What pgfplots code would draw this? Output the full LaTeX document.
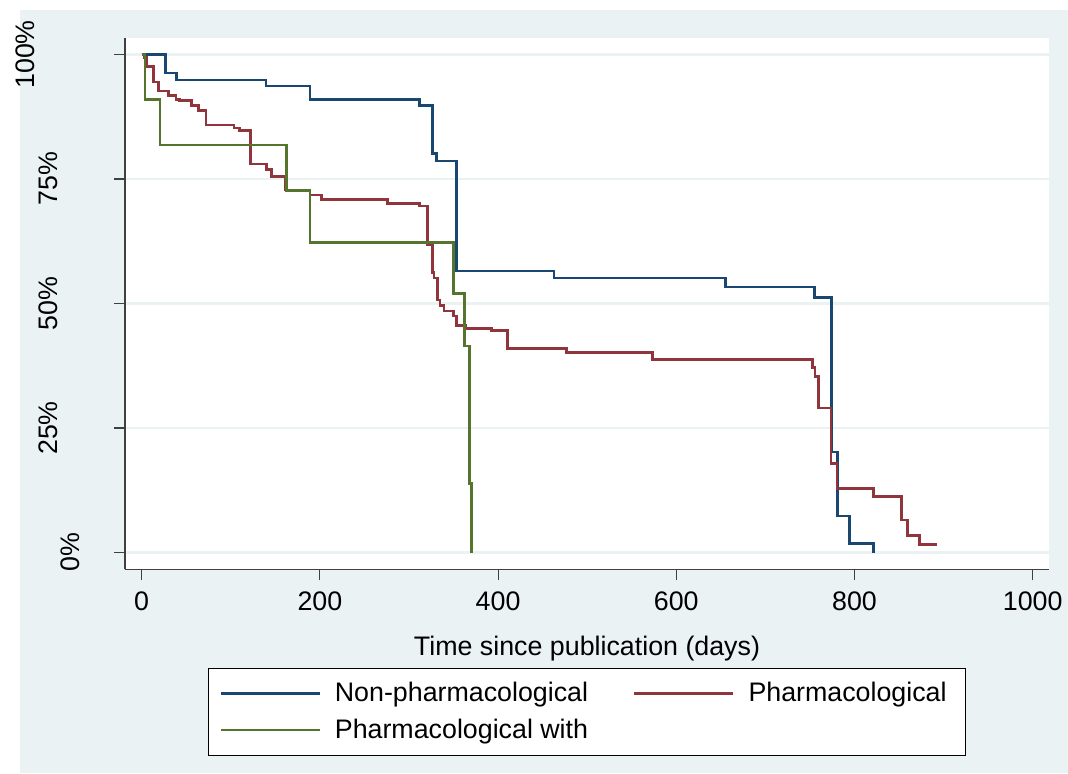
\documentclass[border=0pt]{standalone}
\usepackage{fontspec}
\setmainfont{Liberation Sans}
\usepackage{pgfplots}
\pgfplotsset{compat=1.18}

\definecolor{bgc}{HTML}{EAF2F3}
\definecolor{snavy}{HTML}{1A476F}
\definecolor{smaroon}{HTML}{90353B}
\definecolor{sgreen}{HTML}{55752F}
\newcommand\lbl{\fontsize{13.4}{16}\selectfont}

\begin{document}
\begin{tikzpicture}
\useasboundingbox (-62.5pt,-101.85pt) rectangle (471.5pt,284.65pt);
\fill[bgc] (-52.5pt,-101.85pt) rectangle (471.5pt,279.65pt);
\begin{axis}[
    at={(0pt,0pt)}, anchor=south west,
    scale only axis, width=462pt, height=265.65pt,
    xmin=-18.74, xmax=1018.3,
    ymin=-3.37, ymax=103.3,
    axis x line*=bottom, axis y line*=left,
    axis line style={black!75, line width=0.6pt, -},
    axis background/.style={fill=white},
    tick align=outside,
    major tick length=5.5pt,
    tick style={black!75, line width=0.6pt},
    xtick={0,200,400,600,800,1000},
    ytick={0,25,50,75,100},
    yticklabels={0\%, {\raisebox{11pt}{25\%}}, {\raisebox{11pt}{50\%}}, {\raisebox{11pt}{75\%}}, {\raisebox{22.5pt}{100\%}}},
    ymajorgrids,
    major grid style={bgc, line width=1.2pt},
    /pgf/number format/assume math mode=true,
    /pgf/number format/1000 sep={},
    tick label style={font=\lbl, inner sep=0pt},
    yticklabel style={rotate=90, anchor=south},
    xticklabel shift=5.5pt,
    yticklabel shift=17pt,
    xlabel={Time since publication (days)},
    xlabel style={at={(axis description cs:0.5,-0.1626)}, anchor=base, font=\lbl},
    legend columns=2,
    legend cell align=left,
    legend image code/.code={\draw[#1, line width=1.2pt] (0pt,0pt) -- (49.5pt,0pt);},
    legend style={at={(axis description cs:0.0898,-0.1852)}, anchor=north west,
        draw=black, line width=0.5pt, fill=white, font=\lbl,
        inner xsep=5.5pt, inner ysep=5pt, row sep=3.15pt,
        /tikz/every odd column/.append style={column sep=3pt},
        /tikz/every even column/.append style={column sep=18.5pt},
        nodes={inner xsep=4pt}},
    every axis plot/.append style={const plot, line width=1.3pt},
]
% Non-pharmacological
\addplot[snavy] coordinates {
 (0,100) (26.9,96.3) (39.3,94.9) (139.5,93.7) (188.9,91.0) (311.6,89.7)
 (326.6,80.1) (331.0,78.6) (353.5,56.5) (462.7,55.1) (655.0,53.3)
 (755.3,51.2) (774.2,20.2) (780.7,7.3) (794.2,1.8) (821.1,0)
};
% Pharmacological
\addplot[smaroon] coordinates {
 (0,100) (3,99.4) (5.6,97.6) (13.0,94.5) (18.6,92.7) (29.9,91.7) (38.5,91.0)
 (42.2,90.7) (56.1,89.7) (63.5,88.7) (72.2,85.8) (103.6,85.2) (109.5,84.7)
 (122.3,78.0) (140.3,76.9) (145.9,75.5) (160.8,72.8) (188.9,71.8) (202.0,70.9)
 (275.6,70.1) (311.6,69.6) (321.0,61.9) (326.6,56.2) (328.1,55.1) (331.8,50.7)
 (334.8,49.6) (339.3,48.5) (349.7,47.5) (353.5,45.6) (363.6,45.0) (392.8,44.6)
 (410.3,41.0) (477.0,40.1) (573.5,38.7) (753.1,37.1) (755.5,35.3) (759.8,29.0)
 (773.6,17.9) (780.4,12.9) (821.1,11.3) (853.0,6.5) (859.7,3.4) (872.7,1.6)
 (892.9,1.6)
};
% Pharmacological with
\addplot[sgreen] coordinates {
 (0,100) (3.7,90.9) (20.5,81.8) (162.7,72.7) (188.9,62.3) (349.7,52.0)
 (362.1,41.5) (367.7,13.9) (370.4,0)
};
\legend{Non-pharmacological, Pharmacological, Pharmacological with}
\end{axis}
\end{tikzpicture}
\end{document}
